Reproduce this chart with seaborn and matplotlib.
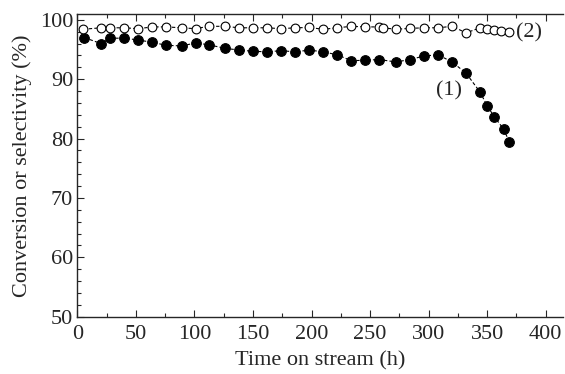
import matplotlib
matplotlib.use("Agg")
import matplotlib.pyplot as plt
import seaborn as sns
import pandas as pd
from matplotlib.ticker import MultipleLocator

# values
time_1 = [6, 20, 28, 40, 52, 64, 76, 89, 101, 112, 126, 138, 150, 162, 174, 186, 198,
          210, 222, 234, 246, 258, 272, 284, 296, 308, 320, 332, 344, 350, 356, 364, 369]
conv_1 = [97.0, 96.0, 96.9, 96.9, 96.6, 96.2, 95.7, 95.6, 96.1, 95.8, 95.2, 94.9, 94.7,
          94.6, 94.8, 94.6, 94.9, 94.6, 94.1, 93.1, 93.2, 93.3, 92.9, 93.3, 93.9, 94.1,
          92.9, 91.0, 87.8, 85.5, 83.7, 81.6, 79.4]

time_2 = [5, 20, 28, 40, 52, 64, 76, 89, 101, 112, 126, 138, 150, 162, 174, 186, 198,
          210, 222, 234, 246, 258, 261, 272, 284, 296, 308, 320, 332, 344, 350, 356, 362, 369]
sel_2 = [98.4, 98.65, 98.65, 98.65, 98.5, 98.8, 98.8, 98.65, 98.5, 98.9, 98.9, 98.65,
         98.65, 98.65, 98.5, 98.65, 98.7, 98.4, 98.65, 98.9, 98.8, 98.8, 98.65, 98.4,
         98.55, 98.65, 98.65, 98.9, 97.8, 98.65, 98.4, 98.3, 98.1, 98.0]

df1 = pd.DataFrame({"time": time_1, "value": conv_1})
df2 = pd.DataFrame({"time": time_2, "value": sel_2})

sns.set_style("ticks")
plt.rcParams["font.family"] = ["Liberation Serif", "DejaVu Serif"]
plt.rcParams["xtick.direction"] = "in"
plt.rcParams["ytick.direction"] = "in"

fig = plt.figure(figsize=(5.65, 3.74), dpi=100)
ax = fig.add_axes([0.137, 0.153, 0.86, 0.81])

# series (1): filled circles
sns.lineplot(data=df1, x="time", y="value", ax=ax, color="black", marker="o",
             markersize=7, markerfacecolor="black", markeredgecolor="black",
             linestyle=(0, (3, 2)), linewidth=0.8, sort=False, errorbar=None)
# series (2): open circles
sns.lineplot(data=df2, x="time", y="value", ax=ax, color="black", marker="o",
             markersize=6.3, markerfacecolor="white", markeredgecolor="black",
             markeredgewidth=0.8, linestyle=(0, (3, 2)), linewidth=0.8,
             sort=False, errorbar=None)

ax.text(317, 88.0, "(1)", fontsize=16, ha="center", va="center")
ax.text(375, 97.8, "(2)", fontsize=16, ha="left", va="center")

ax.set_xlim(0, 415)
ax.set_ylim(50, 101)
ax.xaxis.set_major_locator(MultipleLocator(50))
ax.xaxis.set_minor_locator(MultipleLocator(25))
ax.yaxis.set_major_locator(MultipleLocator(10))
ax.yaxis.set_minor_locator(MultipleLocator(2))
ax.tick_params(which="major", length=5, width=0.8, labelsize=16)
ax.tick_params(axis="x", which="major", pad=6)
ax.tick_params(axis="y", which="major", pad=3)
ax.tick_params(which="minor", length=3, width=0.8)
ax.tick_params(axis="x", which="both", top=True)

ax.spines["right"].set_visible(False)
for s in ["left", "bottom", "top"]:
    ax.spines[s].set_linewidth(1.0)

ax.set_xlabel("Time on stream (h)", fontsize=16, labelpad=5)
ax.set_ylabel("Conversion or selectivity (%)", fontsize=16, labelpad=6)

fig.savefig("out.png", dpi=100)
